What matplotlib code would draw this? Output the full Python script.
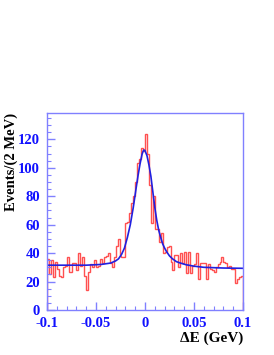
import numpy as np
import matplotlib
matplotlib.use("Agg")
import matplotlib.pyplot as plt
from matplotlib.ticker import MultipleLocator

# Histogram: 100 bins of 2 MeV from -0.1 to 0.1 GeV
bin_edges = np.linspace(-0.1, 0.1, 101)
counts = [
    36, 25, 35, 23, 34, 29, 24, 23, 30, 31,
    37, 27, 27, 33, 33, 28, 40, 31, 37, 24,
    14, 27, 32, 30, 35, 30, 31, 36, 33, 37,
    38, 40, 33, 30, 37, 45, 50, 38, 37, 37,
    61, 62, 68, 75, 80, 90, 103, 106, 114, 112,
    124, 110, 88, 61, 80, 57, 57, 48, 54, 40,
    41, 44, 45, 34, 28, 39, 39, 30, 40, 33,
    41, 26, 41, 26, 31, 32, 40, 22, 33, 33,
    33, 22, 32, 29, 28, 27, 30, 32, 34, 37,
    34, 33, 30, 31, 29, 29, 19, 22, 23, 24,
]

# Fit curve
fit_x = [-0.1, -0.08, -0.06, -0.045, -0.035, -0.03, -0.027, -0.024, -0.021,
         -0.018, -0.015, -0.012, -0.009, -0.007, -0.005, -0.003, -0.002,
         -0.001, 0.0, 0.002, 0.004, 0.006, 0.008, 0.010, 0.012, 0.014,
         0.016, 0.018, 0.020, 0.022, 0.025, 0.028, 0.032, 0.036, 0.042,
         0.05, 0.06, 0.08, 0.1]
fit_y = [31.5, 31.5, 31.5, 32.0, 33.0, 34.5, 36.0, 39.0, 43.5,
         51.0, 60.0, 72.0, 86.0, 95.0, 103.0, 109.5, 111.5,
         112.5, 112.0, 108.5, 102.0, 94.0, 83.0, 72.0, 63.0, 56.0,
         51.0, 46.5, 43.5, 41.0, 38.0, 36.0, 34.0, 33.0, 31.8,
         30.8, 30.0, 29.5, 29.3]

x_ticks = [-0.1, -0.05, 0, 0.05, 0.1]
x_ticklabels = ["-0.1", "-0.05", "0", "0.05", "0.1"]
y_ticks = [0, 20, 40, 60, 80, 100, 120]

fig = plt.figure(figsize=(2.74, 3.55), dpi=100)
ax = fig.add_axes([0.1715, 0.1268, 0.7155, 0.5549])

ax.stairs(counts, bin_edges, color="#ff5050", lw=1.0, baseline=0)
ax.plot(fit_x, fit_y, color="#2020e0", lw=1.2)

ax.set_xlim(-0.1, 0.1)
ax.set_ylim(0, 138.5)

spine_col = "#8080ff"
for s in ax.spines.values():
    s.set_color(spine_col)
    s.set_linewidth(1.0)

ax.set_xticks(x_ticks)
ax.set_xticklabels(x_ticklabels)
ax.set_yticks(y_ticks)
ax.xaxis.set_minor_locator(MultipleLocator(0.01))
ax.yaxis.set_minor_locator(MultipleLocator(5))
ax.tick_params(which="both", direction="in", color=spine_col,
               top=False, right=False)
ax.tick_params(which="major", length=6, width=1.0)
ax.tick_params(which="minor", length=3, width=0.8)
ax.tick_params(axis="both", labelcolor="#1010ff", labelsize=10.5, pad=5)
for lab in ax.get_xticklabels() + ax.get_yticklabels():
    lab.set_fontfamily("Liberation Serif")
    lab.set_fontweight("bold")

fig.text(0.04, 0.545, "Events/(2 MeV)", rotation=90, ha="center", va="center",
         fontsize=10.5, fontweight="bold", family="Liberation Serif",
         color="black")
fig.text(0.887, 0.047, "\u0394E (GeV)", ha="right", va="center",
         fontsize=11, fontweight="bold", family="Liberation Serif",
         color="black")

fig.savefig("out.png", dpi=100)
